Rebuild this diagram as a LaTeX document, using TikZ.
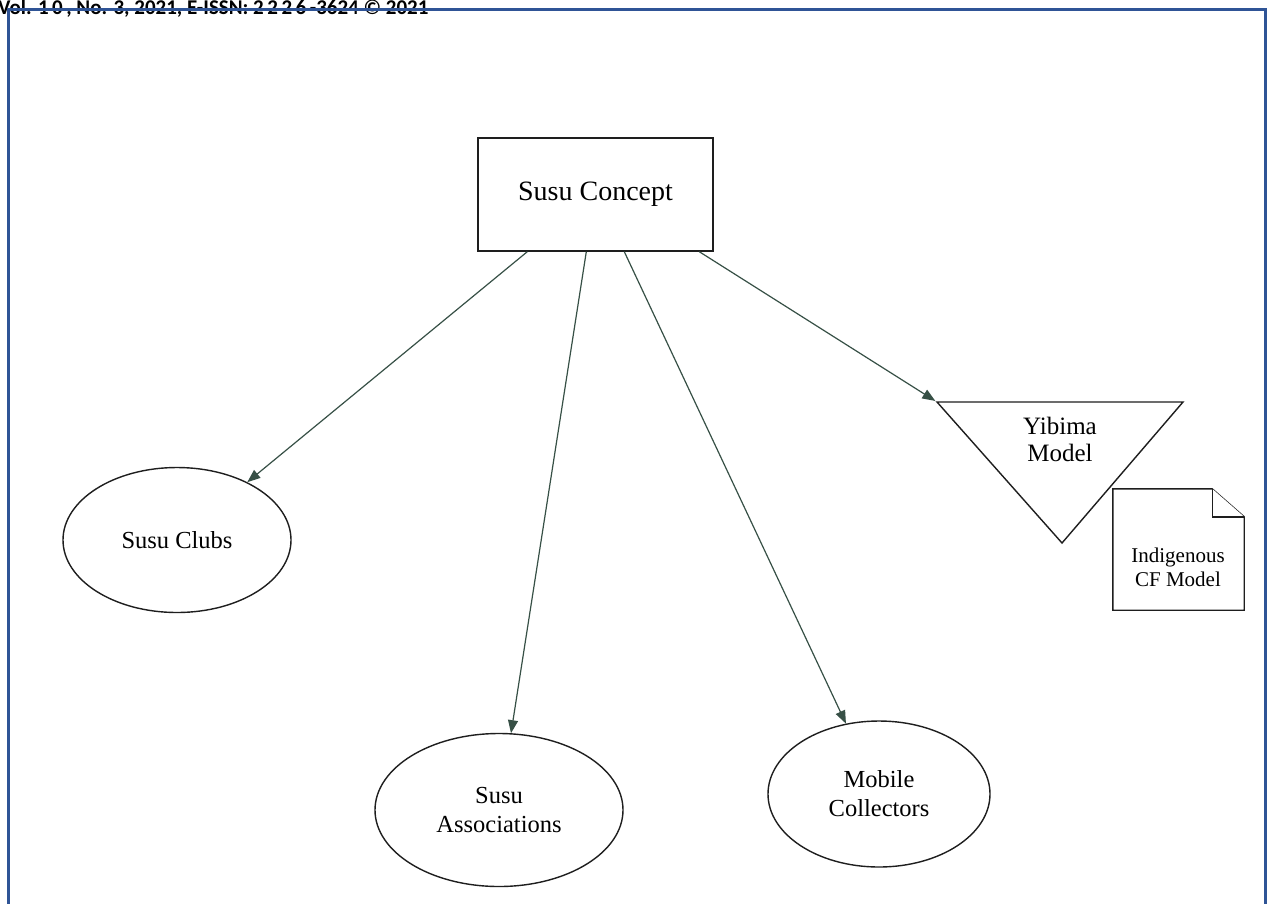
\documentclass[tikz,border=0pt]{standalone}
\usepackage{fontspec}
\setmainfont{Liberation Serif}
\newfontfamily\hdrfont{Carlito}
\usetikzlibrary{arrows.meta,shapes.geometric,calc}
\definecolor{framebl}{RGB}{47,84,150}
\definecolor{arrcol}{RGB}{55,80,70}
\definecolor{linecol}{RGB}{30,30,30}
\tikzset{
  shp/.style={draw=linecol, line width=1.4pt, fill=white, text=black},
  ell/.style={shp, ellipse, inner sep=0pt, align=center, font=\fontsize{24.5}{29}\selectfont},
  arr/.style={draw=arrcol, line width=1.2pt, -{Triangle[length=13pt,width=10pt,fill=arrcol]}},
  frameline/.style={draw=framebl, line width=3pt}
}
\begin{document}
\begin{tikzpicture}[x=1pt,y=-1pt]
\useasboundingbox (0,0) rectangle (1268,903);
\clip (0,0) rectangle (1268,903);
\fill[white] (0,0) rectangle (1268,903);

% header
\node[anchor=base west, inner sep=0pt, font=\hdrfont\bfseries\fontsize{21}{24}\selectfont] (hdr) at (-2,14) {Vol. 1\,0\,, No. 3, 2021, E-ISSN: 2\,2\,2\,6\,-3624 © 2021};
% frame
\draw[frameline] (8,905) -- (8,9) -- (1265,9) -- (1265,905);

% top box
\node[shp, minimum width=235pt, minimum height=113pt, inner sep=0pt, font=\fontsize{28}{32}\selectfont] (box) at (595.5,194.5) {Susu Concept};

% ellipses
\node[ell, minimum width=228pt, minimum height=145pt] (clubs) at (177,540) {Susu Clubs};
\node[ell, minimum width=248pt, minimum height=153pt] (assoc) at (499,810) {Susu\\Associations};
\node[ell, minimum width=222pt, minimum height=146pt] (mobile) at (879,794) {Mobile\\Collectors};

% triangle
\coordinate (tl) at (937,402);
\coordinate (tr) at (1183,402);
\coordinate (tb) at (1062,543);
\draw[shp] (tl) -- (tr) -- (tb) -- cycle;
\node[align=center, inner sep=0pt, font=\fontsize{25}{27}\selectfont] (yib) at (1060,439) {Yibima\\Model};

% document
\node[minimum width=131pt, minimum height=121pt, inner sep=0pt] (doc) at (1178.5,549.5) {};
\coordinate (fa) at ($(doc.north east)+(-32,0)$);
\coordinate (fb) at ($(doc.north east)+(0,28)$);
\coordinate (fc) at ($(doc.north east)+(-32,28)$);
\draw[shp] (doc.north west) -- (fa) -- (fb) -- (doc.south east) -- (doc.south west) -- cycle;
\draw[shp] (fa) -- (fc) -- (fb);
\node[align=center, inner sep=0pt, font=\fontsize{21}{24}\selectfont] (doctxt) at (1178,567) {Indigenous\\CF Model};

% connectors
\coordinate (s1) at ($(box.south west)+(50,0)$);
\coordinate (s2) at ($(box.south west)+(109,0)$);
\coordinate (s3) at ($(box.south west)+(147,0)$);
\coordinate (s4) at ($(box.south west)+(222,0)$);
\draw[arr] (s1) -- (clubs);
\draw[arr] (s2) -- (assoc);
\draw[arr] (s3) -- (mobile);
\draw[arr, shorten >=2pt] (s4) -- (tl);
\end{tikzpicture}
\end{document}
